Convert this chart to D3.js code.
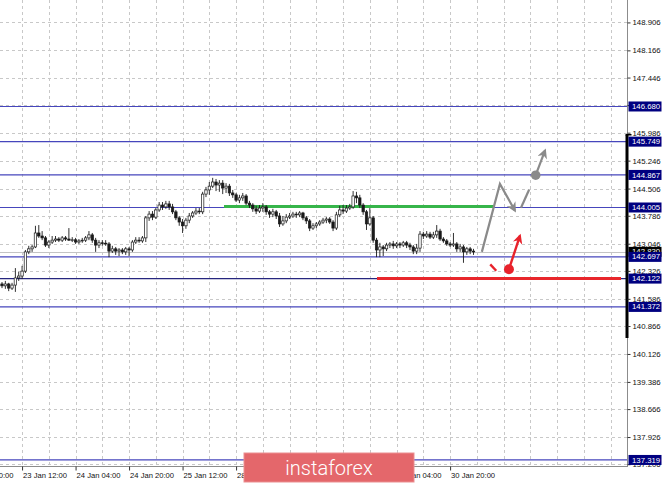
<!DOCTYPE html>
<html><head><meta charset="utf-8">
<script src="https://cdn.jsdelivr.net/npm/d3@7"></script>
<style>html,body{margin:0;padding:0;background:#fff;}svg{display:block;}</style>
</head><body>
<script>
// ---------- DATA ----------
// H1 candles, bar 0 = 23 Jan 06:00 ... bar 141 = 31 Jan 03:00  [open, high, low, close]
const ohlc = [
[141.98,142.03,141.87,141.93],[141.93,142.06,141.85,141.98],[141.98,142.01,141.79,141.87],[141.87,142.01,141.82,141.95],
[141.95,142.40,141.77,142.14],[142.14,142.30,142.06,142.19],[142.19,142.46,142.11,142.32],[142.32,142.88,142.27,142.83],
[142.83,142.99,142.77,142.91],[142.91,143.01,142.83,142.96],[142.96,143.52,142.93,143.33],[143.33,143.54,143.20,143.25],
[143.25,143.38,143.14,143.20],[143.20,143.25,142.96,143.01],[143.01,143.14,142.93,143.09],[143.09,143.25,143.04,143.14],
[143.14,143.25,143.09,143.17],[143.17,143.22,143.09,143.14],[143.14,143.25,143.09,143.20],[143.20,143.25,143.12,143.17],
[143.17,143.46,143.12,143.14],[143.14,143.22,143.09,143.15],[143.15,143.20,143.04,143.09],[143.09,143.17,143.04,143.12],
[143.12,143.20,143.07,143.14],[143.14,143.25,143.09,143.20],[143.20,143.38,143.14,143.28],[143.28,143.33,143.07,143.14],
[143.14,143.20,142.83,143.01],[143.01,143.14,142.93,143.07],[143.07,143.14,142.99,143.06],[143.06,143.14,142.99,143.04],
[143.04,143.09,142.69,142.85],[142.85,142.99,142.80,142.91],[142.91,142.96,142.75,142.85],[142.85,142.93,142.72,142.88],
[142.88,142.93,142.77,142.83],[142.83,142.96,142.75,142.91],[142.91,142.96,142.72,142.88],[142.88,143.14,142.83,143.09],
[143.09,143.22,143.04,143.14],[143.14,143.22,143.07,143.12],[143.12,143.25,143.07,143.20],[143.20,143.78,143.09,143.73],
[143.73,143.91,143.65,143.83],[143.83,143.91,143.67,143.75],[143.75,143.99,143.70,143.94],[143.94,144.15,143.89,144.07],
[144.07,144.15,143.94,144.02],[144.02,144.18,143.97,144.10],[144.10,144.18,143.94,144.02],[144.02,144.10,143.83,143.89],
[143.89,143.94,143.67,143.73],[143.73,143.78,143.52,143.62],[143.62,143.70,143.33,143.52],[143.52,143.73,143.44,143.67],
[143.67,143.86,143.59,143.78],[143.78,143.91,143.73,143.86],[143.86,143.99,143.81,143.91],[143.91,143.99,143.83,143.89],
[143.89,144.42,143.83,144.36],[144.36,144.55,144.28,144.47],[144.47,144.68,144.34,144.57],[144.57,144.79,144.52,144.68],
[144.68,144.76,144.44,144.60],[144.60,144.73,144.42,144.65],[144.65,144.73,144.36,144.52],[144.52,144.65,144.39,144.57],
[144.57,144.63,144.31,144.39],[144.39,144.47,144.26,144.34],[144.34,144.39,144.15,144.20],[144.20,144.34,144.12,144.26],
[144.26,144.39,144.18,144.31],[144.31,144.36,144.07,144.12],[144.12,144.18,143.99,144.07],[144.07,144.12,143.89,143.97],
[143.97,144.05,143.83,143.91],[143.91,144.07,143.86,143.99],[143.99,144.12,143.89,144.02],[144.02,144.07,143.81,143.89],
[143.89,143.94,143.73,143.83],[143.83,143.97,143.75,143.89],[143.89,143.94,143.70,143.78],[143.78,143.86,143.49,143.57],
[143.57,143.78,143.52,143.65],[143.65,143.83,143.59,143.75],[143.75,143.86,143.70,143.78],[143.78,143.89,143.73,143.83],
[143.83,143.89,143.73,143.81],[143.81,143.91,143.75,143.86],[143.86,143.89,143.67,143.73],[143.73,143.78,143.57,143.65],
[143.65,143.70,143.38,143.46],[143.46,143.59,143.41,143.52],[143.52,143.62,143.46,143.57],[143.57,143.67,143.52,143.62],
[143.62,143.73,143.57,143.67],[143.67,143.75,143.59,143.70],[143.70,143.75,143.57,143.62],[143.62,143.67,143.38,143.46],
[143.46,143.89,143.41,143.81],[143.81,144.05,143.75,143.94],[143.94,144.07,143.83,143.91],[143.91,144.07,143.86,143.99],
[143.99,144.10,143.94,144.02],[144.02,144.44,143.97,144.31],[144.31,144.42,144.12,144.26],[144.26,144.34,143.99,144.07],
[144.07,144.12,143.81,143.89],[143.89,143.94,143.41,143.57],[143.57,143.99,143.52,143.73],[143.73,143.78,143.07,143.14],
[143.14,143.20,142.69,142.88],[142.88,143.07,142.69,142.96],[142.96,143.01,142.72,142.91],[142.91,143.07,142.85,143.01],
[143.01,143.09,142.93,143.04],[143.04,143.12,142.91,142.99],[142.99,143.09,142.93,143.04],[143.04,143.09,142.93,143.01],
[143.01,143.12,142.96,143.07],[143.07,143.12,142.93,143.01],[143.01,143.07,142.88,142.96],[142.96,143.01,142.77,142.85],
[142.85,143.04,142.77,142.93],[142.93,143.38,142.83,143.30],[143.30,143.36,143.17,143.25],[143.25,143.38,143.20,143.30],
[143.30,143.36,143.17,143.22],[143.22,143.36,143.17,143.28],[143.28,143.54,143.20,143.38],[143.38,143.44,143.12,143.17],
[143.17,143.22,143.07,143.12],[143.12,143.17,142.99,143.04],[143.04,143.09,142.96,143.01],[143.01,143.33,142.96,143.04],
[143.04,143.09,142.83,142.91],[142.91,143.04,142.83,142.96],[142.96,143.01,142.54,142.83],[142.83,142.96,142.75,142.91],
[142.91,142.96,142.77,142.85],[142.85,142.91,142.75,142.83]
];
// time axis labels: [bar index, text]
const timeLabels = [[-10,"22 Jan 20:00"],[6,"23 Jan 12:00"],[22,"24 Jan 04:00"],[38,"24 Jan 20:00"],[54,"25 Jan 12:00"],
  [70,"28 Jan 04:00"],[86,"28 Jan 20:00"],[102,"29 Jan 12:00"],[118,"30 Jan 04:00"],[134,"30 Jan 20:00"]];
// price axis ticks
const priceTicks = [148.906,148.166,147.446,146.716,145.986,145.246,144.506,143.786,143.046,142.326,141.586,140.866,140.126,139.386,138.666,137.926,137.206];
// horizontal levels
const levels = [146.680,145.749,144.867,144.005,142.697,142.122,141.372,137.319];
const greenLevel = 144.03;   // green line
const redLevel = 142.122;    // red line
// forecast sketch points [bar index, price]
const greyPath = [[143.5,142.83],[148.9,144.63],[153.4,143.92]];
const greyDash = [[155.2,144.00],[162.4,145.52]];
const greyDot = [159.6,144.86];
const redDash = [[146.0,142.50],[147.8,142.33]];
const redDot = [151.6,142.37];
const redArrowTip = [154.9,143.26];

// ---------- CHART ----------
const W = 665, H = 484, plotR = 627, plotB = 466;
const svg = d3.select("body").append("svg").attr("width", W).attr("height", H);
svg.append("rect").attr("width", W).attr("height", H).attr("fill", "#fff");

const y = d3.scaleLinear().domain([137.159, 149.5]).range([plotB, 0]);
const x = d3.scaleLinear().domain([0, 141]).range([2, 2 + 141 * 3.344]);
const crisp = v => Math.round(v) + 0.5;

const defs = svg.append("defs");
defs.append("clipPath").attr("id", "plot").append("rect").attr("width", plotR).attr("height", plotB);
function marker(id, color) {
  defs.append("marker").attr("id", id).attr("viewBox", "0 0 10 10").attr("refX", 8).attr("refY", 5)
    .attr("markerWidth", 11).attr("markerHeight", 10).attr("markerUnits", "userSpaceOnUse").attr("orient", "auto")
    .append("path").attr("d", "M0,0 L10,5 L0,10 L3,5 Z").attr("fill", color);
}
marker("gh", "#8a8a8a"); marker("rh", "#e8222b");

const g = svg.append("g").attr("clip-path", "url(#plot)");

// grid
const gridX = d3.range(-2, 190, 8);
g.selectAll(".gx").data(gridX).join("line").attr("x1", d => crisp(x(d))).attr("x2", d => crisp(x(d)))
  .attr("y1", 0).attr("y2", plotB).attr("stroke", "#c8c8c8").attr("stroke-dasharray", "3,3");
g.selectAll(".gy").data(priceTicks).join("line").attr("x1", 0).attr("x2", plotR)
  .attr("y1", d => crisp(y(d))).attr("y2", d => crisp(y(d)))
  .attr("stroke", "#c8c8c8").attr("stroke-dasharray", "3,3");

// bid line
const bid = ohlc[ohlc.length - 1][3];
g.append("line").attr("x1", 0).attr("x2", plotR).attr("y1", crisp(y(bid))).attr("y2", crisp(y(bid))).attr("stroke", "#c4c4c4");

// levels
g.selectAll(".lv").data(levels).join("line").attr("x1", 0).attr("x2", plotR)
  .attr("y1", d => y(d)).attr("y2", d => y(d))
  .attr("stroke", d => d === 142.122 ? "#26267e" : "#4646bc").attr("stroke-width", 1.2);

// green & red lines
g.append("line").attr("x1", 224).attr("x2", x(greyPath[0][0]) + (x(greyPath[1][0]) - x(greyPath[0][0])) * (y(greyPath[0][1]) - y(greenLevel)) / (y(greyPath[0][1]) - y(greyPath[1][1])))
  .attr("y1", y(greenLevel)).attr("y2", y(greenLevel)).attr("stroke", "#36b54a").attr("stroke-width", 3);
g.append("line").attr("x1", 377).attr("x2", 621).attr("y1", y(redLevel)).attr("y2", y(redLevel))
  .attr("stroke", "#e8262b").attr("stroke-width", 3);

// candles
const bw = 2.4;
const c = g.append("g");
c.selectAll(".wick").data(ohlc).join("line")
  .attr("x1", (d, i) => x(i)).attr("x2", (d, i) => x(i))
  .attr("y1", d => y(d[1])).attr("y2", d => y(d[2])).attr("stroke", "#1a1a1a").attr("stroke-width", 0.9);
c.selectAll(".body").data(ohlc).join("rect")
  .attr("x", (d, i) => x(i) - bw / 2).attr("width", bw)
  .attr("y", d => y(Math.max(d[0], d[3])))
  .attr("height", d => Math.max(0.8, Math.abs(y(d[0]) - y(d[3]))))
  .attr("fill", d => d[3] >= d[0] ? "#ffffff" : "#1a1a1a")
  .attr("stroke", "#1a1a1a").attr("stroke-width", 0.7);

// forecast sketch
const pt = p => [x(p[0]), y(p[1])];
g.append("path").attr("d", d3.line()(greyPath.map(pt))).attr("fill", "none")
  .attr("stroke", "#8a8a8a").attr("stroke-width", 2.2).attr("marker-end", "url(#gh)");
const gd0 = pt(greyDash[0]), gd1 = pt(greyDash[1]), gc = pt(greyDot);
g.append("line").attr("x1", gd0[0]).attr("y1", gd0[1]).attr("x2", gd0[0] + (gc[0] - gd0[0]) * 0.55).attr("y2", gd0[1] + (gc[1] - gd0[1]) * 0.55)
  .attr("stroke", "#8a8a8a").attr("stroke-width", 2.2);
g.append("line").attr("x1", gc[0]).attr("y1", gc[1]).attr("x2", gd1[0]).attr("y2", gd1[1])
  .attr("stroke", "#8a8a8a").attr("stroke-width", 2.2).attr("marker-end", "url(#gh)");
g.append("circle").attr("cx", gc[0]).attr("cy", gc[1]).attr("r", 4.8).attr("fill", "#8a8a8a");

const rd0 = pt(redDash[0]), rd1 = pt(redDash[1]), rc = pt(redDot), rt = pt(redArrowTip);
g.append("line").attr("x1", rd0[0]).attr("y1", rd0[1]).attr("x2", rd1[0]).attr("y2", rd1[1])
  .attr("stroke", "#e8222b").attr("stroke-width", 2.4);
g.append("line").attr("x1", rc[0]).attr("y1", rc[1]).attr("x2", rt[0]).attr("y2", rt[1])
  .attr("stroke", "#e8222b").attr("stroke-width", 2.4).attr("marker-end", "url(#rh)");
g.append("circle").attr("cx", rc[0]).attr("cy", rc[1]).attr("r", 5).attr("fill", "#e8222b");

// frame
svg.append("line").attr("x1", 0).attr("x2", plotR).attr("y1", plotB + 0.5).attr("y2", plotB + 0.5).attr("stroke", "#8c8c8c");
svg.append("line").attr("x1", plotR + 0.5).attr("x2", plotR + 0.5).attr("y1", 0).attr("y2", plotB + 1).attr("stroke", "#8c8c8c");
svg.append("rect").attr("x", 625.5).attr("y", 135).attr("width", 3).attr("height", 203).attr("fill", "#000");
svg.append("rect").attr("x", 625.5).attr("y", 134).attr("width", 6).attr("height", 1.5).attr("fill", "#000");

// price axis
const fontP = "Liberation Sans, Arial, sans-serif";
const ya = svg.append("g").attr("transform", `translate(${plotR + 0.5},0)`)
  .call(d3.axisRight(y).tickValues(priceTicks).tickFormat(d3.format(".3f")).tickSize(3).tickPadding(2));
ya.select(".domain").remove();
ya.selectAll("line").attr("stroke", "#333");
ya.selectAll("text").attr("font-family", fontP).attr("font-size", 7.8).attr("fill", "#111").attr("dy", "0.32em");

// bid label
const lb = svg.append("g");
lb.append("rect").attr("x", 628.5).attr("y", y(bid) - 5).attr("width", 33).attr("height", 10).attr("fill", "#000");
lb.append("text").attr("x", 632).attr("y", y(bid)).attr("dy", "0.33em").attr("font-family", fontP)
  .attr("font-size", 7.8).attr("fill", "#fff").text(d3.format(".3f")(bid));
// level labels
const ll = svg.append("g").selectAll("g").data(levels).join("g");
ll.append("rect").attr("x", 628.5).attr("y", d => y(d) - 5).attr("width", 33).attr("height", 10).attr("fill", "#000080");
ll.append("text").attr("x", 632).attr("y", d => y(d)).attr("dy", "0.33em").attr("font-family", fontP)
  .attr("font-size", 7.8).attr("fill", "#fff").text(d => d3.format(".3f")(d));

// time axis
const xa = svg.append("g").attr("transform", `translate(0,${plotB + 0.5})`)
  .call(d3.axisBottom(x).tickValues(timeLabels.map(d => d[0])).tickFormat((d, i) => timeLabels[i][1]).tickSize(4).tickPadding(2));
xa.select(".domain").remove();
xa.selectAll("line").attr("stroke", "#333");
xa.selectAll("text").attr("font-family", fontP).attr("font-size", 7.6).attr("fill", "#111")
  .attr("text-anchor", "start").attr("x", 0.5).attr("textLength", 44).attr("lengthAdjust", "spacingAndGlyphs");

// watermark
svg.append("rect").attr("x", 244).attr("y", 453).attr("width", 170).attr("height", 29)
  .attr("fill", "#e4676b").attr("stroke", "#eb8f91").attr("stroke-width", 1);
svg.append("text").attr("x", 329).attr("y", 475).attr("text-anchor", "middle")
  .attr("font-family", "Roboto, 'Open Sans', sans-serif").attr("font-weight", 300).attr("font-size", 20)
  .attr("fill", "#fff").text("instaforex");
</script>
</body></html>
